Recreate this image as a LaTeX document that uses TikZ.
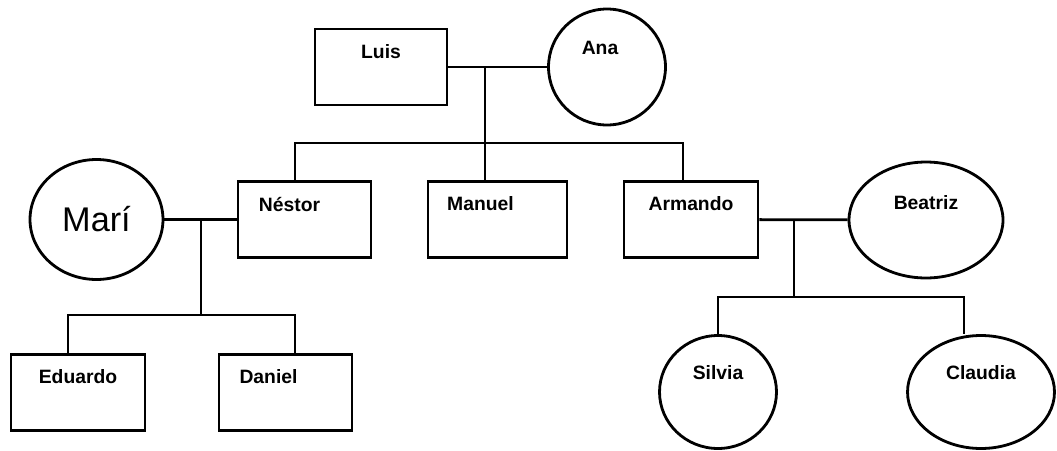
\documentclass[tikz,border=0pt]{standalone}
\usepackage{fontspec}
\setmainfont{Liberation Sans}
\usetikzlibrary{shapes.geometric}

\begin{document}
\begin{tikzpicture}[x=0.02cm,y=-0.02cm,line width=1.6pt,
  man/.style={draw,rectangle,minimum width=2.66cm,minimum height=1.52cm},
  woman/.style={draw,ellipse,minimum width=2.34cm,minimum height=2.32cm},
  every label/.style={font=\fontsize{11}{13}\selectfont\bfseries}]
  \useasboundingbox (0,0) rectangle (1057,450);
  % first generation
  \node[man,minimum width=2.64cm] (Luis) at (381,67) [label={[yshift=.3cm]center:Luis}] {};
  \node[woman] (Ana) at (607,67) [label={[xshift=-.14cm,yshift=.38cm]center:Ana}] {};
  % second generation
  \node[man] (Nestor) at (304.5,219.5) [label={[xshift=-.3cm,yshift=.31cm]center:Néstor}] {};
  \node[man,minimum width=2.78cm] (Manuel) at (497.5,219.5) [label={[xshift=-.34cm,yshift=.31cm]center:Manuel}] {};
  \node[man,minimum width=2.68cm] (Armando) at (691,219.5) [label={[yshift=.31cm]center:Armando}] {};
  \node[woman,minimum width=2.66cm,minimum height=2.4cm] (Mari) at (96.5,219.5) {\fontsize{19.5}{22}\selectfont Marí};
  \node[woman,minimum width=3.08cm] (Beatriz) at (926,220) [label={[yshift=.34cm]center:Beatriz}] {};
  % third generation
  \node[man,minimum width=2.68cm] (Eduardo) at (78,392.5) [label={[yshift=.31cm]center:Eduardo}] {};
  \node[man] (Daniel) at (285.5,392.5) [label={[xshift=-.34cm,yshift=.31cm]center:Daniel}] {};
  \node[woman,minimum height=2.26cm] (Silvia) at (718,392) [label={[yshift=.38cm]center:Silvia}] {};
  \node[woman,minimum width=2.94cm,minimum height=2.26cm] (Claudia) at (981,392) [label={[yshift=.38cm]center:Claudia}] {};
  % junctions
  \coordinate (j1) at (485,67);
  \coordinate (b1) at (295,143);
  \coordinate (b2) at (683,143);
  \coordinate (j2) at (201,220);
  \coordinate (c1) at (68,315);
  \coordinate (c2) at (295,315);
  \coordinate (j3) at (794,220);
  \coordinate (d1) at (718,297);
  \coordinate (d2) at (964,297);
  % Luis and Ana
  \draw (Luis) -- (Ana);
  \draw (j1) -- (j1 |- Manuel.north);
  \draw (b1 |- Nestor.north) -- (b1) -- (b2) -- (b2 |- Armando.north);
  % Néstor and Marí
  \draw (Mari) -- (Nestor);
  \draw (j2) -- (j2 |- c1);
  \draw (c1 |- Eduardo.north) -- (c1) -- (c2) -- (c2 |- Daniel.north);
  % Armando and Beatriz
  \draw (Armando) -- (Beatriz);
  \draw (j3) -- (j3 |- d1);
  \draw (d1 |- Silvia.north) -- (d1) -- (d2) -- (d2 |- Claudia.north);
\end{tikzpicture}
\end{document}
